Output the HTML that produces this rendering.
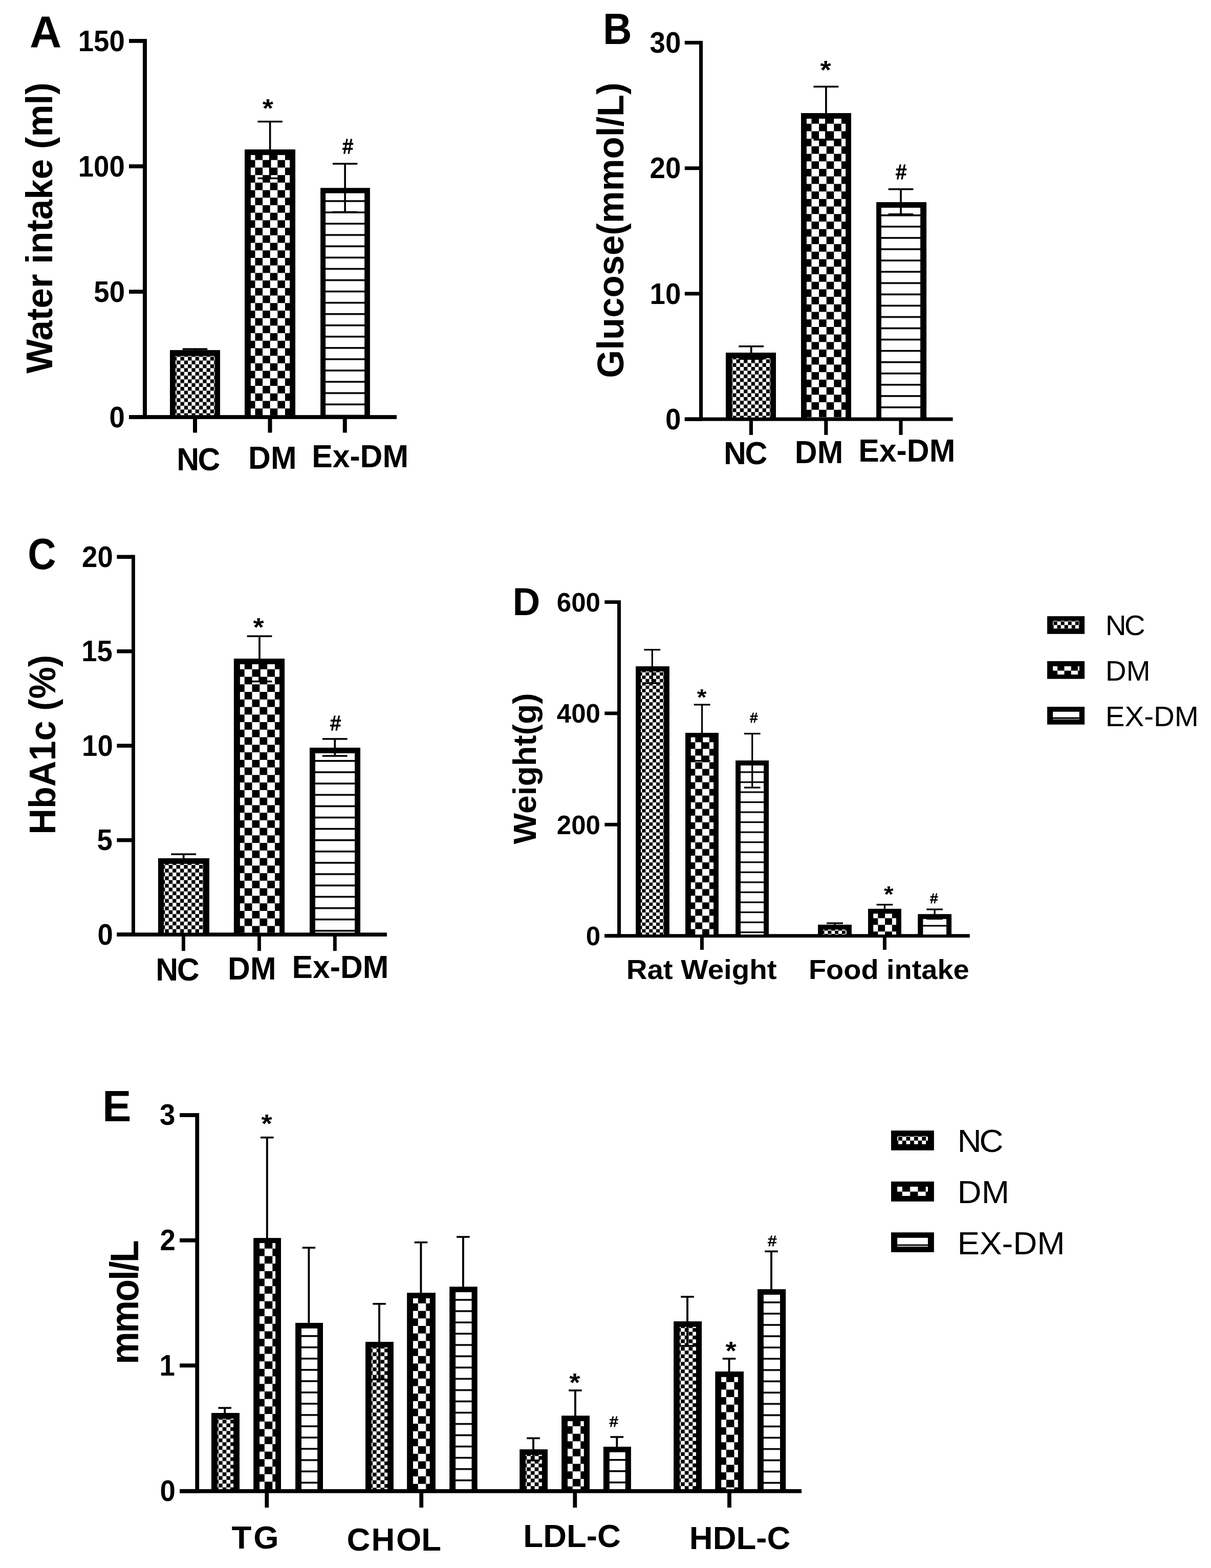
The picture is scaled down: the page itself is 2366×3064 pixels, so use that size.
<!DOCTYPE html>
<html lang="en">
<head>
<meta charset="utf-8">
<title>Figure: water intake, glucose, HbA1c, weight and lipid profile in NC, DM and Ex-DM rats</title>
<style>
html,body{margin:0;padding:0;background:#fff}
body{width:2366px;height:3064px}
svg{display:block;font-family:"Liberation Sans",Arial,Helvetica,sans-serif;font-weight:bold;fill:#000}
</style>
</head>
<body>
<svg width="2366" height="3064" viewBox="0 0 2366 3064">
<defs>
<pattern id="p1" patternUnits="userSpaceOnUse" x="352.5" y="697.24" width="14.59" height="14.71"><rect width="14.59" height="14.71" fill="#fff"/><rect width="7.3" height="7.35" fill="#000"/><rect x="7.3" y="7.35" width="7.3" height="7.35" fill="#000"/></pattern>
<pattern id="p2" patternUnits="userSpaceOnUse" x="498.5" y="298.02" width="29.19" height="29.42"><rect width="29.19" height="29.42" fill="#fff"/><rect width="14.59" height="14.71" fill="#000"/><rect x="14.59" y="14.71" width="14.59" height="14.71" fill="#000"/></pattern>
<pattern id="p3" patternUnits="userSpaceOnUse" x="621.1" y="391.22" width="120" height="22.07"><rect width="120" height="22.07" fill="#fff"/><rect width="120" height="3.51" fill="#000"/></pattern>
<pattern id="p4" patternUnits="userSpaceOnUse" x="1438.5" y="702.24" width="14.59" height="14.71"><rect width="14.59" height="14.71" fill="#fff"/><rect width="7.3" height="7.35" fill="#000"/><rect x="7.3" y="7.35" width="7.3" height="7.35" fill="#000"/></pattern>
<pattern id="p5" patternUnits="userSpaceOnUse" x="1585.5" y="227.02" width="29.19" height="29.42"><rect width="29.19" height="29.42" fill="#fff"/><rect width="14.59" height="14.71" fill="#000"/><rect x="14.59" y="14.71" width="14.59" height="14.71" fill="#000"/></pattern>
<pattern id="p6" patternUnits="userSpaceOnUse" x="1707.1" y="419.02" width="120" height="22.07"><rect width="120" height="22.07" fill="#fff"/><rect width="120" height="3.51" fill="#000"/></pattern>
<pattern id="p7" patternUnits="userSpaceOnUse" x="329.71" y="1690.28" width="14.81" height="14.75"><rect width="14.81" height="14.75" fill="#fff"/><rect width="7.41" height="7.38" fill="#000"/><rect x="7.41" y="7.38" width="7.41" height="7.38" fill="#000"/></pattern>
<pattern id="p8" patternUnits="userSpaceOnUse" x="477.71" y="1293.04" width="29.63" height="29.51"><rect width="29.63" height="29.51" fill="#fff"/><rect width="14.81" height="14.76" fill="#000"/><rect x="14.81" y="14.76" width="14.81" height="14.76" fill="#000"/></pattern>
<pattern id="p9" patternUnits="userSpaceOnUse" x="600" y="1485.09" width="120" height="22.13"><rect width="120" height="22.13" fill="#fff"/><rect width="120" height="3.52" fill="#000"/></pattern>
<pattern id="p10" patternUnits="userSpaceOnUse" x="1261.42" y="1313.65" width="13.76" height="13.04"><rect width="13.76" height="13.04" fill="#fff"/><rect width="6.88" height="6.52" fill="#000"/><rect x="6.88" y="6.52" width="6.88" height="6.52" fill="#000"/></pattern>
<pattern id="p11" patternUnits="userSpaceOnUse" x="1358.32" y="1437.33" width="27.52" height="26.08"><rect width="27.52" height="26.08" fill="#fff"/><rect width="13.76" height="13.04" fill="#000"/><rect x="13.76" y="13.04" width="13.76" height="13.04" fill="#000"/></pattern>
<pattern id="p12" patternUnits="userSpaceOnUse" x="1432.1" y="1507.29" width="120" height="19.56"><rect width="120" height="19.56" fill="#fff"/><rect width="120" height="3.11" fill="#000"/></pattern>
<pattern id="p13" patternUnits="userSpaceOnUse" x="1617.42" y="1818.55" width="13.76" height="13.04"><rect width="13.76" height="13.04" fill="#fff"/><rect width="6.88" height="6.52" fill="#000"/><rect x="6.88" y="6.52" width="6.88" height="6.52" fill="#000"/></pattern>
<pattern id="p14" patternUnits="userSpaceOnUse" x="1715.32" y="1781.13" width="27.52" height="26.08"><rect width="27.52" height="26.08" fill="#fff"/><rect width="13.76" height="13.04" fill="#000"/><rect x="13.76" y="13.04" width="13.76" height="13.04" fill="#000"/></pattern>
<pattern id="p15" patternUnits="userSpaceOnUse" x="1788.2" y="1807.49" width="120" height="19.56"><rect width="120" height="19.56" fill="#fff"/><rect width="120" height="3.11" fill="#000"/></pattern>
<pattern id="p16" patternUnits="userSpaceOnUse" x="434.67" y="2774.13" width="15.43" height="14.7"><rect width="15.43" height="14.7" fill="#fff"/><rect width="7.71" height="7.35" fill="#000"/><rect x="7.71" y="7.35" width="7.71" height="7.35" fill="#000"/></pattern>
<pattern id="p17" patternUnits="userSpaceOnUse" x="516.87" y="2425.11" width="30.86" height="29.39"><rect width="30.86" height="29.39" fill="#fff"/><rect width="15.43" height="14.7" fill="#000"/><rect x="15.43" y="14.7" width="15.43" height="14.7" fill="#000"/></pattern>
<pattern id="p18" patternUnits="userSpaceOnUse" x="572.1" y="2609" width="120" height="22.04"><rect width="120" height="22.04" fill="#fff"/><rect width="120" height="3.51" fill="#000"/></pattern>
<pattern id="p19" patternUnits="userSpaceOnUse" x="735.67" y="2635.23" width="15.43" height="14.7"><rect width="15.43" height="14.7" fill="#fff"/><rect width="7.71" height="7.35" fill="#000"/><rect x="7.71" y="7.35" width="7.71" height="7.35" fill="#000"/></pattern>
<pattern id="p20" patternUnits="userSpaceOnUse" x="816.77" y="2532.21" width="30.86" height="29.39"><rect width="30.86" height="29.39" fill="#fff"/><rect width="15.43" height="14.7" fill="#000"/><rect x="15.43" y="14.7" width="15.43" height="14.7" fill="#000"/></pattern>
<pattern id="p21" patternUnits="userSpaceOnUse" x="873.2" y="2538.3" width="120" height="22.04"><rect width="120" height="22.04" fill="#fff"/><rect width="120" height="3.51" fill="#000"/></pattern>
<pattern id="p22" patternUnits="userSpaceOnUse" x="1036.87" y="2845.23" width="15.43" height="14.7"><rect width="15.43" height="14.7" fill="#fff"/><rect width="7.71" height="7.35" fill="#000"/><rect x="7.71" y="7.35" width="7.71" height="7.35" fill="#000"/></pattern>
<pattern id="p23" patternUnits="userSpaceOnUse" x="1118.77" y="2772.31" width="30.86" height="29.39"><rect width="30.86" height="29.39" fill="#fff"/><rect width="15.43" height="14.7" fill="#000"/><rect x="15.43" y="14.7" width="15.43" height="14.7" fill="#000"/></pattern>
<pattern id="p24" patternUnits="userSpaceOnUse" x="1173.9" y="2851" width="120" height="22.04"><rect width="120" height="22.04" fill="#fff"/><rect width="120" height="3.51" fill="#000"/></pattern>
<pattern id="p25" patternUnits="userSpaceOnUse" x="1337.77" y="2595.13" width="15.43" height="14.7"><rect width="15.43" height="14.7" fill="#fff"/><rect width="7.71" height="7.35" fill="#000"/><rect x="7.71" y="7.35" width="7.71" height="7.35" fill="#000"/></pattern>
<pattern id="p26" patternUnits="userSpaceOnUse" x="1418.97" y="2686.01" width="30.86" height="29.39"><rect width="30.86" height="29.39" fill="#fff"/><rect width="15.43" height="14.7" fill="#000"/><rect x="15.43" y="14.7" width="15.43" height="14.7" fill="#000"/></pattern>
<pattern id="p27" patternUnits="userSpaceOnUse" x="1475" y="2543.2" width="120" height="22.04"><rect width="120" height="22.04" fill="#fff"/><rect width="120" height="3.51" fill="#000"/></pattern>
<pattern id="p28" patternUnits="userSpaceOnUse" x="2058.5" y="1214.3" width="14.1" height="14.1"><rect width="14.1" height="14.1" fill="#fff"/><rect width="7.05" height="7.05" fill="#000"/><rect x="7.05" y="7.05" width="7.05" height="7.05" fill="#000"/></pattern>
<pattern id="p29" patternUnits="userSpaceOnUse" x="2066.05" y="1297.2" width="26.6" height="26.6"><rect width="26.6" height="26.6" fill="#fff"/><rect width="13.3" height="13.3" fill="#000"/><rect x="13.3" y="13.3" width="13.3" height="13.3" fill="#000"/></pattern>
<pattern id="p30" patternUnits="userSpaceOnUse" x="1755.1" y="2221.1" width="15.4" height="15.4"><rect width="15.4" height="15.4" fill="#fff"/><rect width="7.7" height="7.7" fill="#000"/><rect x="7.7" y="7.7" width="7.7" height="7.7" fill="#000"/></pattern>
<pattern id="p31" patternUnits="userSpaceOnUse" x="1762.8" y="2313.3" width="30.6" height="30.6"><rect width="30.6" height="30.6" fill="#fff"/><rect width="15.3" height="15.3" fill="#000"/><rect x="15.3" y="15.3" width="15.3" height="15.3" fill="#000"/></pattern>
</defs>
<rect width="2366" height="3064" fill="#fff"/>
<rect x="279" y="76.1" width="8" height="742.8" fill="#000"/>
<rect x="252" y="811.1" width="523" height="7.8" fill="#000"/>
<rect x="252" y="76.1" width="31" height="7.8" fill="#000"/>
<rect x="252" y="321.1" width="31" height="7.8" fill="#000"/>
<rect x="252" y="566.1" width="31" height="7.8" fill="#000"/>
<rect x="252" y="811.1" width="31" height="7.8" fill="#000"/>
<rect x="377" y="815" width="8" height="30.5" fill="#000"/>
<rect x="523.5" y="815" width="8" height="30.5" fill="#000"/>
<rect x="669.8" y="815" width="8" height="30.5" fill="#000"/>
<rect x="332" y="684.1" width="98" height="127.01" fill="#000"/>
<rect x="332" y="809.1" width="10.8" height="5" fill="#000"/>
<rect x="419.7" y="809.1" width="10.3" height="5" fill="#000"/>
<rect x="342.8" y="695.7" width="76.9" height="115.4" fill="url(#p1)"/>
<rect x="379.15" y="682.1" width="3.7" height="3" fill="#000"/>
<rect x="356.8" y="680.35" width="48.4" height="3.5" fill="#000"/>
<rect x="478" y="292" width="99" height="519.11" fill="#000"/>
<rect x="478" y="809.1" width="11.9" height="5" fill="#000"/>
<rect x="566.1" y="809.1" width="10.9" height="5" fill="#000"/>
<rect x="489.9" y="302.93" width="76.2" height="508.17" fill="url(#p2)"/>
<rect x="525.75" y="301.93" width="3.7" height="46.57" fill="#000"/>
<rect x="503.4" y="346.75" width="48.4" height="3.5" fill="#000"/>
<rect x="525.75" y="237.6" width="3.7" height="55.4" fill="#000"/>
<rect x="503.4" y="235.85" width="48.4" height="3.5" fill="#000"/>
<rect x="626.1" y="367.2" width="96.8" height="443.91" fill="#000"/>
<rect x="626.1" y="809.1" width="10" height="5" fill="#000"/>
<rect x="712.1" y="809.1" width="10.8" height="5" fill="#000"/>
<rect x="636.1" y="377.6" width="76" height="433.5" fill="url(#p3)"/>
<rect x="672.25" y="376.6" width="3.7" height="37.8" fill="#000"/>
<rect x="649.9" y="412.65" width="48.4" height="3.5" fill="#000"/>
<rect x="672.25" y="320" width="3.7" height="48.2" fill="#000"/>
<rect x="649.9" y="318.25" width="48.4" height="3.5" fill="#000"/>
<text transform="translate(152.7,99.7) scale(1,1.045)" font-size="54.6">150</text>
<text transform="translate(152.7,344.7) scale(1,1.045)" font-size="54.6">100</text>
<text transform="translate(183.28,589.7) scale(1,1.045)" font-size="54.6">50</text>
<text transform="translate(213.58,834.7) scale(1,1.045)" font-size="54.6">0</text>
<text transform="translate(57.95,91.7) scale(1,1.015)" font-size="86">A</text>
<text transform="translate(102.4,729.8) rotate(-90) scale(1,1.01)" font-size="70.9">Water intake (ml)</text>
<text transform="translate(345.2,918.9) scale(1,1.03)" font-size="60.7" dx="0 -2.43">NC</text>
<text transform="translate(485.05,915.8) scale(1,1.03)" font-size="60.7">DM</text>
<text transform="translate(609.15,912.7) scale(1,1.03)" font-size="60.7">Ex-DM</text>
<text transform="translate(512.86,228.52) scale(1,0.93)" font-size="54.5">*</text>
<text transform="translate(669.49,299.9) scale(1,1.128)" font-size="36.5" font-weight="normal" stroke="#000" stroke-width="1.3" stroke-linejoin="round">#</text>
<rect x="1365.95" y="79.85" width="7.1" height="742.8" fill="#000"/>
<rect x="1337.8" y="815.55" width="523.8" height="7.1" fill="#000"/>
<rect x="1337.8" y="79.85" width="31.7" height="7.1" fill="#000"/>
<rect x="1337.8" y="325.15" width="31.7" height="7.1" fill="#000"/>
<rect x="1337.8" y="570.35" width="31.7" height="7.1" fill="#000"/>
<rect x="1337.8" y="815.55" width="31.7" height="7.1" fill="#000"/>
<rect x="1463.85" y="819.1" width="7.1" height="30.8" fill="#000"/>
<rect x="1610.25" y="819.1" width="7.1" height="30.8" fill="#000"/>
<rect x="1756.45" y="819.1" width="7.1" height="30.8" fill="#000"/>
<rect x="1418" y="689.1" width="98" height="126.46" fill="#000"/>
<rect x="1418" y="813.55" width="12.1" height="5" fill="#000"/>
<rect x="1505.3" y="813.55" width="10.7" height="5" fill="#000"/>
<rect x="1430.1" y="700.03" width="75.2" height="115.52" fill="url(#p4)"/>
<rect x="1465.85" y="699.03" width="3.7" height="2.37" fill="#000"/>
<rect x="1443.3" y="699.65" width="48.8" height="3.5" fill="#000"/>
<rect x="1465.85" y="676.8" width="3.7" height="13.3" fill="#000"/>
<rect x="1443.3" y="675.05" width="48.8" height="3.5" fill="#000"/>
<rect x="1565" y="221" width="98" height="594.56" fill="#000"/>
<rect x="1565" y="813.55" width="10.9" height="5" fill="#000"/>
<rect x="1652.1" y="813.55" width="10.9" height="5" fill="#000"/>
<rect x="1575.9" y="231.93" width="76.2" height="583.62" fill="url(#p5)"/>
<rect x="1612.05" y="230.93" width="3.7" height="41.97" fill="#000"/>
<rect x="1589.5" y="271.15" width="48.8" height="3.5" fill="#000"/>
<rect x="1612.05" y="169.3" width="3.7" height="52.7" fill="#000"/>
<rect x="1589.5" y="167.55" width="48.8" height="3.5" fill="#000"/>
<rect x="1712.1" y="395" width="98" height="420.56" fill="#000"/>
<rect x="1712.1" y="813.55" width="9.8" height="5" fill="#000"/>
<rect x="1798.1" y="813.55" width="12" height="5" fill="#000"/>
<rect x="1721.9" y="405.93" width="76.2" height="409.62" fill="url(#p6)"/>
<rect x="1758.15" y="404.93" width="3.7" height="13.77" fill="#000"/>
<rect x="1735.6" y="416.95" width="48.8" height="3.5" fill="#000"/>
<rect x="1758.15" y="369.7" width="3.7" height="26.3" fill="#000"/>
<rect x="1735.6" y="367.95" width="48.8" height="3.5" fill="#000"/>
<text transform="translate(1269.58,103) scale(1,1.045)" font-size="54.6">30</text>
<text transform="translate(1269.58,348.3) scale(1,1.045)" font-size="54.6">20</text>
<text transform="translate(1269.58,593.5) scale(1,1.045)" font-size="54.6">10</text>
<text transform="translate(1299.88,838.7) scale(1,1.045)" font-size="54.6">0</text>
<text transform="translate(1177.91,86) scale(0.91,1)" font-size="86">B</text>
<text transform="translate(1218.2,738.63) rotate(-90) scale(1,1.02)" font-size="70.7">Glucose(mmol/L)</text>
<text transform="translate(1414.1,906.9) scale(1,1.03)" font-size="60.7" dx="0 -2.43">NC</text>
<text transform="translate(1552.85,904.8) scale(1,1.03)" font-size="60.7">DM</text>
<text transform="translate(1677.35,901.8) scale(1,1.03)" font-size="60.7">Ex-DM</text>
<text transform="translate(1602.4,153.77) scale(1,0.93)" font-size="54.5">*</text>
<text transform="translate(1750.52,349.55) scale(1,1.128)" font-size="36.5" font-weight="normal" stroke="#000" stroke-width="1.3" stroke-linejoin="round">#</text>
<rect x="257" y="1084.4" width="6.9" height="745.6" fill="#000"/>
<rect x="228.4" y="1822.4" width="527.5" height="7.6" fill="#000"/>
<rect x="228.4" y="1084.4" width="32.05" height="7.6" fill="#000"/>
<rect x="228.4" y="1268.9" width="32.05" height="7.6" fill="#000"/>
<rect x="228.4" y="1453.4" width="32.05" height="7.6" fill="#000"/>
<rect x="228.4" y="1637.9" width="32.05" height="7.6" fill="#000"/>
<rect x="228.4" y="1822.4" width="32.05" height="7.6" fill="#000"/>
<rect x="354.95" y="1826.2" width="6.9" height="32" fill="#000"/>
<rect x="503.05" y="1826.2" width="6.9" height="32" fill="#000"/>
<rect x="650.85" y="1826.2" width="6.9" height="32" fill="#000"/>
<rect x="308.9" y="1677.1" width="100.1" height="145.31" fill="#000"/>
<rect x="308.9" y="1820.4" width="11.2" height="5" fill="#000"/>
<rect x="397" y="1820.4" width="12" height="5" fill="#000"/>
<rect x="320.1" y="1688.07" width="76.9" height="134.33" fill="url(#p7)"/>
<rect x="356.85" y="1669.25" width="3.7" height="8.85" fill="#000"/>
<rect x="334.3" y="1667.5" width="48.8" height="3.5" fill="#000"/>
<rect x="456.9" y="1287" width="99.15" height="535.41" fill="#000"/>
<rect x="456.9" y="1820.4" width="12" height="5" fill="#000"/>
<rect x="546.05" y="1820.4" width="10" height="5" fill="#000"/>
<rect x="468.9" y="1297.97" width="77.15" height="524.43" fill="url(#p8)"/>
<rect x="505.15" y="1296.97" width="3.7" height="34.63" fill="#000"/>
<rect x="482.6" y="1329.85" width="48.8" height="3.5" fill="#000"/>
<rect x="505.15" y="1243.2" width="3.7" height="44.8" fill="#000"/>
<rect x="482.6" y="1241.45" width="48.8" height="3.5" fill="#000"/>
<rect x="605" y="1461" width="99" height="361.41" fill="#000"/>
<rect x="605" y="1820.4" width="10.9" height="5" fill="#000"/>
<rect x="693.1" y="1820.4" width="10.9" height="5" fill="#000"/>
<rect x="615.9" y="1471.97" width="77.2" height="350.43" fill="url(#p9)"/>
<rect x="652.4" y="1470.97" width="3.7" height="6.13" fill="#000"/>
<rect x="629.85" y="1475.35" width="48.8" height="3.5" fill="#000"/>
<rect x="652.4" y="1443.95" width="3.7" height="18.05" fill="#000"/>
<rect x="629.85" y="1442.2" width="48.8" height="3.5" fill="#000"/>
<text transform="translate(160.08,1107.7) scale(1,1.045)" font-size="54.6">20</text>
<text transform="translate(159.26,1292.2) scale(1,1.045)" font-size="54.6">15</text>
<text transform="translate(160.08,1476.7) scale(1,1.045)" font-size="54.6">10</text>
<text transform="translate(189.56,1661.2) scale(1,1.045)" font-size="54.6">5</text>
<text transform="translate(190.38,1845.7) scale(1,1.045)" font-size="54.6">0</text>
<text transform="translate(54.14,1112.2) scale(0.89,0.985)" font-size="86">C</text>
<text transform="translate(108.2,1630.76) rotate(-90) scale(1,1.03)" font-size="70.2">HbA1c (%)</text>
<text transform="translate(304.3,1915.6) scale(1,1.03)" font-size="60.7" dx="0 -2.43">NC</text>
<text transform="translate(445.05,1913.7) scale(1,1.03)" font-size="60.7">DM</text>
<text transform="translate(570.45,1910.6) scale(1,1.03)" font-size="60.7">Ex-DM</text>
<text transform="translate(494.55,1243.32) scale(1,0.93)" font-size="54.5">*</text>
<text transform="translate(645.52,1427.25) scale(1,1.128)" font-size="36.5" font-weight="normal" stroke="#000" stroke-width="1.3" stroke-linejoin="round">#</text>
<rect x="1206" y="1173.05" width="7" height="659.1" fill="#000"/>
<rect x="1181.3" y="1825.25" width="713.4" height="6.9" fill="#000"/>
<rect x="1181.3" y="1173.05" width="28.2" height="6.9" fill="#000"/>
<rect x="1181.3" y="1390.45" width="28.2" height="6.9" fill="#000"/>
<rect x="1181.3" y="1607.85" width="28.2" height="6.9" fill="#000"/>
<rect x="1181.3" y="1825.25" width="28.2" height="6.9" fill="#000"/>
<rect x="1367.9" y="1828.7" width="7" height="27.3" fill="#000"/>
<rect x="1724.9" y="1828.7" width="7" height="27.3" fill="#000"/>
<rect x="1242.1" y="1302" width="65.8" height="524.16" fill="#000"/>
<rect x="1242.1" y="1824.15" width="9.9" height="5" fill="#000"/>
<rect x="1297.1" y="1824.15" width="10.8" height="5" fill="#000"/>
<rect x="1252" y="1312" width="45.1" height="514.15" fill="url(#p10)"/>
<rect x="1272.7" y="1311" width="3.2" height="24" fill="#000"/>
<rect x="1258.4" y="1333.4" width="31.8" height="3.2" fill="#000"/>
<rect x="1272.7" y="1269.6" width="3.2" height="33.4" fill="#000"/>
<rect x="1258.4" y="1268" width="31.8" height="3.2" fill="#000"/>
<rect x="1339" y="1432" width="64.9" height="394.16" fill="#000"/>
<rect x="1339" y="1824.15" width="10.8" height="5" fill="#000"/>
<rect x="1394.1" y="1824.15" width="9.8" height="5" fill="#000"/>
<rect x="1349.8" y="1440.8" width="44.3" height="385.35" fill="url(#p11)"/>
<rect x="1370" y="1439.8" width="3.2" height="46.9" fill="#000"/>
<rect x="1355.7" y="1485.1" width="31.8" height="3.2" fill="#000"/>
<rect x="1370" y="1377" width="3.2" height="56" fill="#000"/>
<rect x="1355.7" y="1375.4" width="31.8" height="3.2" fill="#000"/>
<rect x="1437.1" y="1486" width="64.9" height="340.16" fill="#000"/>
<rect x="1437.1" y="1824.15" width="9.9" height="5" fill="#000"/>
<rect x="1492.1" y="1824.15" width="9.9" height="5" fill="#000"/>
<rect x="1447" y="1495.8" width="45.1" height="330.35" fill="url(#p12)"/>
<rect x="1468.1" y="1494.8" width="3.2" height="44.2" fill="#000"/>
<rect x="1453.8" y="1537.4" width="31.8" height="3.2" fill="#000"/>
<rect x="1468.1" y="1433.6" width="3.2" height="53.4" fill="#000"/>
<rect x="1453.8" y="1432" width="31.8" height="3.2" fill="#000"/>
<rect x="1598.1" y="1806.9" width="65.8" height="19.26" fill="#000"/>
<rect x="1598.1" y="1824.15" width="10.2" height="5" fill="#000"/>
<rect x="1653.9" y="1824.15" width="10" height="5" fill="#000"/>
<rect x="1608.3" y="1816.5" width="45.6" height="9.65" fill="url(#p13)"/>
<rect x="1629.4" y="1804" width="3.2" height="3.9" fill="#000"/>
<rect x="1615.1" y="1802.4" width="31.8" height="3.2" fill="#000"/>
<rect x="1696" y="1775.8" width="64.9" height="50.36" fill="#000"/>
<rect x="1696" y="1824.15" width="10.2" height="5" fill="#000"/>
<rect x="1750.9" y="1824.15" width="10" height="5" fill="#000"/>
<rect x="1706.2" y="1785.4" width="44.7" height="40.75" fill="url(#p14)"/>
<rect x="1726.85" y="1767.8" width="3.2" height="9" fill="#000"/>
<rect x="1712.55" y="1766.2" width="31.8" height="3.2" fill="#000"/>
<rect x="1793.2" y="1786.2" width="65.8" height="39.96" fill="#000"/>
<rect x="1793.2" y="1824.15" width="10.2" height="5" fill="#000"/>
<rect x="1849" y="1824.15" width="10" height="5" fill="#000"/>
<rect x="1803.4" y="1795.8" width="45.6" height="30.35" fill="url(#p15)"/>
<rect x="1824.5" y="1794.8" width="3.2" height="0.6" fill="#000"/>
<rect x="1810.2" y="1794.8" width="31.8" height="2.2" fill="#000"/>
<rect x="1824.5" y="1777" width="3.2" height="10.2" fill="#000"/>
<rect x="1810.2" y="1775.4" width="31.8" height="3.2" fill="#000"/>
<text transform="translate(1087.87,1194.9)" font-size="51">600</text>
<text transform="translate(1087.87,1412.3)" font-size="51">400</text>
<text transform="translate(1087.87,1629.7)" font-size="51">200</text>
<text transform="translate(1144.73,1847.1)" font-size="51">0</text>
<text transform="translate(1001.46,1201.7) scale(1,1.02)" font-size="74.5">D</text>
<text transform="translate(1046.5,1649.5) rotate(-90) scale(1,0.99)" font-size="64.3">Weight(g)</text>
<text transform="translate(1223.63,1912.8) scale(1,0.963)" font-size="56.5">Rat Weight</text>
<text transform="translate(1579.97,1912.8) scale(1,0.963)" font-size="55.9">Food intake</text>
<text transform="translate(1361.68,1377.75) scale(1,0.91)" font-size="48">*</text>
<text transform="translate(1465.16,1412.21) scale(1,1.05)" font-size="27" font-weight="normal" stroke="#000" stroke-width="1" stroke-linejoin="round">#</text>
<text transform="translate(1726.88,1763.35) scale(1,0.91)" font-size="48">*</text>
<text transform="translate(1817.36,1764.61) scale(1,1.05)" font-size="27" font-weight="normal" stroke="#000" stroke-width="1" stroke-linejoin="round">#</text>
<rect x="381.3" y="2175.1" width="7.8" height="742.6" fill="#000"/>
<rect x="351.1" y="2909.9" width="1214.9" height="7.8" fill="#000"/>
<rect x="351.1" y="2175.1" width="34.1" height="7.8" fill="#000"/>
<rect x="351.1" y="2419.8" width="34.1" height="7.8" fill="#000"/>
<rect x="351.1" y="2664.4" width="34.1" height="7.8" fill="#000"/>
<rect x="351.1" y="2909.9" width="34.1" height="7.8" fill="#000"/>
<rect x="517.4" y="2913.8" width="7.8" height="32.2" fill="#000"/>
<rect x="819.3" y="2913.8" width="7.8" height="32.2" fill="#000"/>
<rect x="1119.4" y="2913.8" width="7.8" height="32.2" fill="#000"/>
<rect x="1421.1" y="2913.8" width="7.8" height="32.2" fill="#000"/>
<rect x="413" y="2761" width="55" height="148.91" fill="#000"/>
<rect x="413" y="2907.9" width="12" height="5" fill="#000"/>
<rect x="456.1" y="2907.9" width="11.9" height="5" fill="#000"/>
<rect x="425" y="2772" width="31.1" height="137.9" fill="url(#p16)"/>
<rect x="437.25" y="2771" width="3.9" height="-0.2" fill="#000"/>
<rect x="426.4" y="2771" width="25.6" height="1.6" fill="#000"/>
<rect x="437.25" y="2751.2" width="3.9" height="10.8" fill="#000"/>
<rect x="426.4" y="2749.4" width="25.6" height="3.6" fill="#000"/>
<rect x="495.2" y="2419.1" width="53.8" height="490.81" fill="#000"/>
<rect x="495.2" y="2907.9" width="11.9" height="5" fill="#000"/>
<rect x="538.1" y="2907.9" width="10.9" height="5" fill="#000"/>
<rect x="507.1" y="2429" width="31" height="480.9" fill="url(#p17)"/>
<rect x="519.85" y="2222.8" width="3.9" height="197.3" fill="#000"/>
<rect x="509" y="2221" width="25.6" height="3.6" fill="#000"/>
<rect x="577.1" y="2585" width="53.9" height="324.91" fill="#000"/>
<rect x="577.1" y="2907.9" width="11.9" height="5" fill="#000"/>
<rect x="620.1" y="2907.9" width="10.9" height="5" fill="#000"/>
<rect x="589" y="2595.9" width="31.1" height="314" fill="url(#p18)"/>
<rect x="601.45" y="2438.1" width="3.9" height="147.9" fill="#000"/>
<rect x="590.6" y="2436.3" width="25.6" height="3.6" fill="#000"/>
<rect x="714" y="2622.1" width="54.9" height="287.81" fill="#000"/>
<rect x="714" y="2907.9" width="11.9" height="5" fill="#000"/>
<rect x="757.1" y="2907.9" width="11.8" height="5" fill="#000"/>
<rect x="725.9" y="2633" width="31.2" height="276.9" fill="url(#p19)"/>
<rect x="739.05" y="2632" width="3.9" height="63.4" fill="#000"/>
<rect x="728.2" y="2693.6" width="25.6" height="3.6" fill="#000"/>
<rect x="739.05" y="2547.8" width="3.9" height="75.3" fill="#000"/>
<rect x="728.2" y="2546" width="25.6" height="3.6" fill="#000"/>
<rect x="795.1" y="2526.2" width="55.8" height="383.71" fill="#000"/>
<rect x="795.1" y="2907.9" width="11.9" height="5" fill="#000"/>
<rect x="839.7" y="2907.9" width="11.2" height="5" fill="#000"/>
<rect x="807" y="2537" width="32.7" height="372.9" fill="url(#p20)"/>
<rect x="820.45" y="2427.7" width="3.9" height="99.5" fill="#000"/>
<rect x="809.6" y="2425.9" width="25.6" height="3.6" fill="#000"/>
<rect x="878.2" y="2514.3" width="54.5" height="395.61" fill="#000"/>
<rect x="878.2" y="2907.9" width="11.9" height="5" fill="#000"/>
<rect x="921.5" y="2907.9" width="11.2" height="5" fill="#000"/>
<rect x="890.1" y="2525.1" width="31.4" height="384.8" fill="url(#p21)"/>
<rect x="902.9" y="2417" width="3.9" height="98.3" fill="#000"/>
<rect x="892.05" y="2415.2" width="25.6" height="3.6" fill="#000"/>
<rect x="1015.2" y="2832.1" width="54.8" height="77.81" fill="#000"/>
<rect x="1015.2" y="2907.9" width="11.9" height="5" fill="#000"/>
<rect x="1058.8" y="2907.9" width="11.2" height="5" fill="#000"/>
<rect x="1027.1" y="2842.9" width="31.7" height="67" fill="url(#p22)"/>
<rect x="1040.05" y="2841.9" width="3.9" height="11.9" fill="#000"/>
<rect x="1029.2" y="2852" width="25.6" height="3.6" fill="#000"/>
<rect x="1040.05" y="2810.4" width="3.9" height="22.7" fill="#000"/>
<rect x="1029.2" y="2808.6" width="25.6" height="3.6" fill="#000"/>
<rect x="1097.1" y="2766.3" width="54.9" height="143.61" fill="#000"/>
<rect x="1097.1" y="2907.9" width="11.9" height="5" fill="#000"/>
<rect x="1140.8" y="2907.9" width="11.2" height="5" fill="#000"/>
<rect x="1109" y="2777.1" width="31.8" height="132.8" fill="url(#p23)"/>
<rect x="1122" y="2717" width="3.9" height="50.3" fill="#000"/>
<rect x="1111.15" y="2715.2" width="25.6" height="3.6" fill="#000"/>
<rect x="1178.9" y="2827" width="54" height="82.91" fill="#000"/>
<rect x="1178.9" y="2907.9" width="11.9" height="5" fill="#000"/>
<rect x="1221.7" y="2907.9" width="11.2" height="5" fill="#000"/>
<rect x="1190.8" y="2837.8" width="30.9" height="72.1" fill="url(#p24)"/>
<rect x="1203.35" y="2808" width="3.9" height="20" fill="#000"/>
<rect x="1192.5" y="2806.2" width="25.6" height="3.6" fill="#000"/>
<rect x="1316.1" y="2582" width="55" height="327.91" fill="#000"/>
<rect x="1316.1" y="2907.9" width="11.9" height="5" fill="#000"/>
<rect x="1359.9" y="2907.9" width="11.2" height="5" fill="#000"/>
<rect x="1328" y="2592.8" width="31.9" height="317.1" fill="url(#p25)"/>
<rect x="1341.05" y="2591.8" width="3.9" height="38.2" fill="#000"/>
<rect x="1330.2" y="2628.2" width="25.6" height="3.6" fill="#000"/>
<rect x="1341.05" y="2534" width="3.9" height="49" fill="#000"/>
<rect x="1330.2" y="2532.2" width="25.6" height="3.6" fill="#000"/>
<rect x="1397.3" y="2680" width="55.7" height="229.91" fill="#000"/>
<rect x="1397.3" y="2907.9" width="11.9" height="5" fill="#000"/>
<rect x="1441.8" y="2907.9" width="11.2" height="5" fill="#000"/>
<rect x="1409.2" y="2690.8" width="32.6" height="219.1" fill="url(#p26)"/>
<rect x="1422.6" y="2655" width="3.9" height="26" fill="#000"/>
<rect x="1411.75" y="2653.2" width="25.6" height="3.6" fill="#000"/>
<rect x="1480" y="2519.2" width="55.2" height="390.71" fill="#000"/>
<rect x="1480" y="2907.9" width="11.9" height="5" fill="#000"/>
<rect x="1524" y="2907.9" width="11.2" height="5" fill="#000"/>
<rect x="1491.9" y="2530" width="32.1" height="379.9" fill="url(#p27)"/>
<rect x="1505.05" y="2445.3" width="3.9" height="74.9" fill="#000"/>
<rect x="1494.2" y="2443.5" width="25.6" height="3.6" fill="#000"/>
<text transform="translate(312.11,2198.2) scale(1,1.045)" font-size="54.6">3</text>
<text transform="translate(312.38,2442.9) scale(1,1.045)" font-size="54.6">2</text>
<text transform="translate(311.56,2687.5) scale(1,1.045)" font-size="54.6">1</text>
<text transform="translate(312.38,2933) scale(1,1.045)" font-size="54.6">0</text>
<text transform="translate(199.99,2190.7) scale(0.985,1)" font-size="86">E</text>
<text transform="translate(270.2,2665.95) rotate(-90) scale(1,1.08)" font-size="71.5" letter-spacing="-2.3">mmol/L</text>
<text transform="translate(452.47,3026.3) scale(1,1.005)" font-size="63.5" dx="0 4">TG</text>
<text transform="translate(677.46,3029.6) scale(1,1.005)" font-size="63.5" dx="0 2.16 2.67">CHOL</text>
<text transform="translate(1022.37,3023.1) scale(1,1.005)" font-size="63.5">LDL-C</text>
<text transform="translate(1346.87,3027) scale(1,1.005)" font-size="63.5">HDL-C</text>
<text transform="translate(510.45,2212.52) scale(1,0.93)" font-size="54.5">*</text>
<text transform="translate(1112.2,2719.37) scale(1,0.93)" font-size="54.5">*</text>
<text transform="translate(1190.64,2788.28) scale(1,0.96)" font-size="30.5" font-weight="normal" stroke="#000" stroke-width="1.1" stroke-linejoin="round">#</text>
<text transform="translate(1417.55,2656.87) scale(1,0.93)" font-size="54.5">*</text>
<text transform="translate(1500.19,2435.38) scale(1,0.96)" font-size="30.5" font-weight="normal" stroke="#000" stroke-width="1.1" stroke-linejoin="round">#</text>
<rect x="2046" y="1204.1" width="73" height="34.7" fill="#000"/>
<rect x="2057.1" y="1213.1" width="51.6" height="15.4" fill="url(#p28)"/>
<rect x="2046" y="1291.9" width="73" height="34.7" fill="#000"/>
<rect x="2057.1" y="1301.9" width="51.6" height="16.2" fill="url(#p29)"/>
<rect x="2046" y="1381.1" width="73" height="34.7" fill="#000"/>
<rect x="2057.1" y="1390.8" width="51.6" height="15" fill="#fff"/>
<rect x="2057.1" y="1401.6" width="51.6" height="3.2" fill="#000"/>
<text transform="translate(2159.78,1241.3) scale(1,0.97)" font-size="56.5" font-weight="normal" dx="0 -3.84">NC</text>
<text transform="translate(2159.78,1329.6) scale(1,0.97)" font-size="56.5" font-weight="normal">DM</text>
<text transform="translate(2159.78,1418.6) scale(1,0.97)" font-size="56.5" font-weight="normal">EX-DM</text>
<rect x="1741" y="2209.2" width="83.8" height="38.7" fill="#000"/>
<rect x="1753.1" y="2220" width="59.8" height="15.8" fill="url(#p30)"/>
<rect x="1741" y="2308.8" width="83.8" height="39" fill="#000"/>
<rect x="1753.1" y="2318.9" width="59.8" height="18" fill="url(#p31)"/>
<rect x="1741" y="2408.2" width="83.8" height="38.7" fill="#000"/>
<rect x="1753.1" y="2418.8" width="59.8" height="17.2" fill="#fff"/>
<rect x="1753.1" y="2431.6" width="59.8" height="2.9" fill="#000"/>
<text transform="translate(1870.58,2251.2) scale(1,0.975)" font-size="65.2" font-weight="normal" dx="0 -4.43">NC</text>
<text transform="translate(1870.58,2350.6) scale(1,0.975)" font-size="65.2" font-weight="normal">DM</text>
<text transform="translate(1870.58,2450.5) scale(1,0.975)" font-size="65.2" font-weight="normal">EX-DM</text>
</svg>
</body>
</html>
